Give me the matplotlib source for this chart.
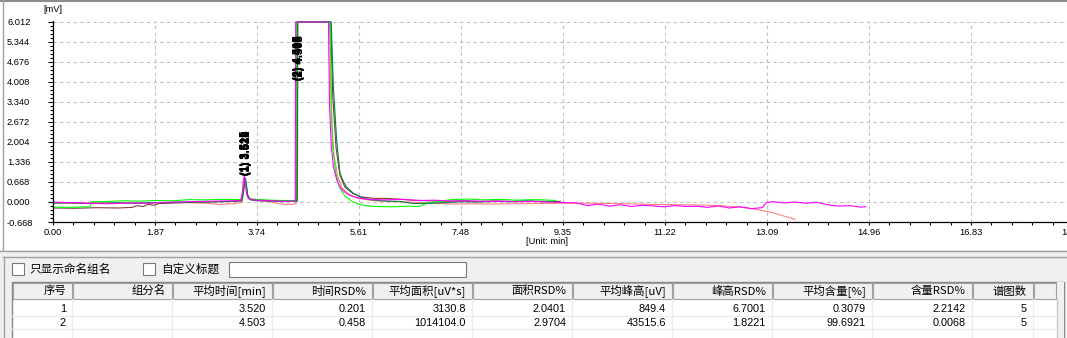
import matplotlib
matplotlib.use('Agg')
import matplotlib.pyplot as plt
from matplotlib.patches import Rectangle
from matplotlib.ticker import MultipleLocator, FormatStrFormatter

plt.rcParams['font.family'] = ['Liberation Sans', 'DejaVu Sans']
CJK = ['Noto Sans CJK SC', 'DejaVu Sans']

# ---- chromatogram traces (time [min], signal [mV])
mag_t = [0.00, 0.25, 0.50, 0.75, 1.00, 1.25, 1.50, 1.75, 2.00, 2.25, 2.50, 2.75, 3.00, 3.25, 3.44, 3.47, 3.49, 3.51,
         3.53, 3.55, 3.58, 3.62, 3.75, 3.95, 4.15, 4.35, 4.44, 4.45, 5.05, 5.07, 5.10, 5.14, 5.20, 5.28, 5.38, 5.50,
         5.65, 5.85, 6.10, 6.40, 6.70, 7.00, 7.30, 7.60, 7.90, 8.20, 8.50, 8.80, 9.10, 9.40, 9.60, 9.80, 10.00, 10.20,
         10.40, 10.60, 10.80, 11.00, 11.20, 11.40, 11.60, 11.80, 12.00, 12.20, 12.40, 12.60, 12.80, 13.00, 13.08,
         13.20, 13.40, 13.60, 13.80, 14.00, 14.20, 14.40, 14.60, 14.80, 14.90]
mag_v = [0.00, -0.02, -0.03, -0.05, -0.06, -0.04, -0.03, -0.04, -0.01, 0.00, 0.01, 0.02, 0.03, 0.04, 0.05, 0.30,
         0.70, 0.87, 0.55, 0.25, 0.12, 0.08, 0.06, 0.04, 0.03, 0.02, 0.04, 6.012, 6.012, 3.20, 1.90, 1.20, 0.75, 0.45,
         0.28, 0.18, 0.12, 0.08, 0.07, 0.09, 0.05, 0.06, 0.03, 0.04, 0.02, 0.03, 0.01, 0.02, 0.00, -0.02, -0.03,
         -0.12, -0.07, -0.14, -0.09, -0.15, -0.11, -0.13, -0.16, -0.12, -0.15, -0.14, -0.18, -0.13, -0.20, -0.16,
         -0.22, -0.19, -0.02, 0.01, -0.03, 0.00, -0.04, -0.01, -0.09, -0.14, -0.12, -0.17, -0.16]

dg_t = [0.00, 0.30, 0.60, 0.90, 1.20, 1.50, 1.80, 2.10, 2.40, 2.70, 3.00, 3.30, 3.46, 3.49, 3.51, 3.53, 3.55, 3.57,
        3.60, 3.65, 3.80, 4.00, 4.20, 4.40, 4.48, 4.49, 5.10, 5.14, 5.20, 5.26, 5.32, 5.38, 5.50, 5.63, 5.75, 5.90,
        6.10, 6.36, 6.60, 6.90, 7.20, 7.50, 7.80, 8.10, 8.40, 8.70, 9.00, 9.22]
dg_v = [-0.04, -0.03, -0.05, -0.04, -0.03, -0.04, -0.02, -0.02, -0.01, 0.00, 0.01, 0.02, 0.04, 0.30, 0.65, 0.79,
        0.50, 0.22, 0.10, 0.06, 0.04, 0.03, 0.02, 0.03, 0.03, 6.012, 6.012, 3.84, 2.07, 0.97, 0.70, 0.50, 0.30, 0.17,
        0.10, 0.06, 0.03, 0.02, -0.05, -0.04, -0.02, 0.01, 0.00, 0.02, 0.01, 0.03, 0.02, 0.01]

lg_t = [0.00, 0.30, 0.60, 0.68, 0.70, 1.00, 1.30, 1.60, 1.90, 2.20, 2.50, 2.80, 3.10, 3.40, 3.46, 3.49, 3.52, 3.54,
        3.57, 3.62, 3.80, 4.00, 4.20, 4.45, 4.46, 5.08, 5.12, 5.18, 5.25, 5.35, 5.50, 5.65, 5.90, 6.20, 6.50, 6.70,
        6.85, 7.00, 7.30, 7.60, 7.90, 8.20, 8.50, 8.80, 9.00, 9.22]
lg_v = [-0.17, -0.18, -0.16, -0.17, 0.00, 0.02, 0.04, 0.03, 0.05, 0.04, 0.08, 0.07, 0.09, 0.08, 0.10, 0.40, 0.75,
        0.55, 0.20, 0.10, 0.08, 0.06, 0.05, 0.05, 6.012, 6.012, 2.00, 1.00, 0.50, 0.20, 0.00, -0.10, -0.15, -0.16,
        -0.14, -0.15, -0.05, 0.00, 0.08, 0.10, 0.07, 0.09, 0.06, 0.08, 0.07, 0.05]

br_t = [0.00, 0.40, 0.80, 1.20, 1.45, 1.55, 1.65, 1.75, 1.85, 1.95, 2.10, 2.40, 2.70, 3.00, 3.30, 3.46, 3.49, 3.52,
        3.54, 3.57, 3.62, 3.80, 4.00, 4.20, 4.40, 4.47, 4.48, 5.09, 5.13, 5.19, 5.26, 5.35, 5.50, 5.65, 5.90, 6.10,
        6.30, 6.60, 6.90, 7.20, 7.50, 7.80, 8.10, 8.40, 8.70, 9.00, 9.30]
br_v = [-0.20, -0.21, -0.19, -0.20, -0.18, -0.12, -0.15, -0.08, -0.11, -0.05, -0.04, -0.02, 0.00, 0.01, 0.02, 0.04,
        0.35, 0.80, 0.60, 0.22, 0.10, 0.06, 0.04, 0.03, 0.03, 0.04, 6.012, 6.012, 3.50, 1.80, 0.90, 0.50, 0.28, 0.17,
        0.12, 0.12, 0.10, 0.06, 0.04, 0.03, 0.04, 0.02, 0.03, 0.02, 0.03, 0.01, 0.02]

sl_t = [0.00, 0.40, 0.80, 1.20, 1.60, 2.00, 2.40, 2.80, 3.05, 3.30, 3.46, 3.49, 3.52, 3.54, 3.57, 3.62, 3.80, 4.00,
        4.20, 4.40, 4.46, 4.47, 5.07, 5.10, 5.15, 5.22, 5.30, 5.42, 5.58, 5.80, 6.10, 6.50, 6.90, 7.30, 7.70, 8.10,
        8.50, 8.90, 9.35, 9.80, 10.30, 10.95, 11.50, 11.86, 12.20, 12.54, 12.80, 13.02, 13.20, 13.38, 13.50, 13.60]
sl_v = [-0.03, -0.04, -0.02, -0.03, -0.05, -0.03, -0.02, -0.04, -0.08, -0.06, -0.02, 0.30, 0.75, 0.55, 0.20, 0.08,
        0.04, 0.00, -0.07, -0.08, -0.05, 6.012, 6.012, 3.00, 1.60, 0.85, 0.48, 0.26, 0.13, 0.06, 0.02, 0.00, -0.03,
        -0.07, -0.06, -0.07, -0.06, -0.05, -0.04, -0.04, -0.05, -0.08, -0.09, -0.10, -0.12, -0.16, -0.22, -0.29,
        -0.36, -0.46, -0.52, -0.58]

# retention times printed at the two peaks (one per run)
pk1_rt = [3.515, 3.520, 3.528, 3.512, 3.525]
pk2_rt = [4.490, 4.515, 4.497, 4.508, 4.505]

# ---- summary table
headers = ['序号', '组分名', '平均时间[min]', '时间RSD%', '平均面积[uV*s]', '面积RSD%',
           '平均峰高[uV]', '峰高RSD%', '平均含量[%]', '含量RSD%', '谱图数', '']
col_no = ['1', '2']
col_name = ['', '']
col_rt = ['3.520', '4.503']
col_rt_rsd = ['0.201', '0.458']
col_area = ['3130.8', '1014104.0']
col_area_rsd = ['2.0401', '2.9704']
col_height = ['849.4', '43515.6']
col_height_rsd = ['6.7001', '1.8221']
col_amount = ['0.3079', '99.6921']
col_amount_rsd = ['2.2142', '0.0068']
col_nspec = ['5', '5']
table_cols = [col_no, col_name, col_rt, col_rt_rsd, col_area, col_area_rsd,
              col_height, col_height_rsd, col_amount, col_amount_rsd, col_nspec]

W, H = 1067, 338
fig = plt.figure(figsize=(W / 100, H / 100), dpi=100)

# background layer in pixel coordinates (y downwards)
bg = fig.add_axes([0, 0, 1, 1], zorder=0)
bg.set_xlim(0, W)
bg.set_ylim(H, 0)
bg.axis('off')

bg.add_patch(Rectangle((0, 0), W, 250, facecolor='white', edgecolor='none'))
bg.plot([0, W], [0.8, 0.8], color='#8c8c8c', lw=1.5)
bg.plot([2.5, 2.5], [0, 250], color='#a0a0a0', lw=1)
bg.add_patch(Rectangle((0, 250), W, H - 250, facecolor='#f0f0f0', edgecolor='none'))
bg.plot([0, W], [250.5, 250.5], color='#a0a0a0', lw=1)
bg.plot([3, W], [256.5, 256.5], color='#a0a0a0', lw=1)
bg.plot([3.5, 3.5], [256.5, H], color='#a0a0a0', lw=1)

# check boxes + title box
bg.add_patch(Rectangle((12, 263), 12, 12, facecolor='white', edgecolor='#7a7a7a', lw=0.8))
bg.text(29, 269, '只显示命名组名', family=CJK, fontsize=8.4, va='center', ha='left', color='black')
bg.add_patch(Rectangle((143, 263), 12, 12, facecolor='white', edgecolor='#7a7a7a', lw=0.8))
bg.text(161, 269, '自定义标题', family=CJK, fontsize=8.4, va='center', ha='left', color='black')
bg.add_patch(Rectangle((229, 262), 237, 15, facecolor='white', edgecolor='#7a7a7a', lw=0.8))

# table
col_edges = [12, 72, 172, 272, 372, 472, 572, 672, 772, 872, 972, 1033, 1056]
bg.add_patch(Rectangle((12, 282), 1052, 60, facecolor='white', edgecolor='#828790', lw=1))
bg.add_patch(Rectangle((1057, 282), 7, 60, facecolor='#f0f0f0', edgecolor='none'))
bg.plot([1057, 1057], [299, H], color='#c8c8c8', lw=1)
for x in col_edges[1:-1]:
    bg.plot([x, x], [299, H], color='#ececec', lw=1)
for y in [315.5, 329]:
    bg.plot([12, 1057], [y, y], color='#ececec', lw=1)
for i, h in enumerate(headers):
    x0, x1 = col_edges[i], col_edges[i + 1]
    bg.add_patch(Rectangle((x0 + 0.5, 282.5), x1 - x0 - 1, 16.5, facecolor='#f0f0f0', edgecolor='#a0a0a0', lw=0.8))
    if h:
        bg.text(x1 - 6, 291, h, family=CJK, fontsize=8.2, ha='right', va='center', color='black')
row_y = [309, 322.5]
for i, col in enumerate(table_cols):
    for r, val in enumerate(col):
        if val:
            bg.text(col_edges[i + 1] - 6, row_y[r], val, fontsize=7.8, ha='right', va='center', color='black')

# ---- chromatogram axes
ax = fig.add_axes([53 / W, (H - 222) / H, (W - 53) / W, 201 / H], zorder=1)
ax.set_facecolor('none')
traces = [(sl_t, sl_v, '#ff8080'), (br_t, br_v, '#804040'), (lg_t, lg_v, '#00ff00'),
          (dg_t, dg_v, '#008040'), (mag_t, mag_v, '#ff00ff')]
for t, v, c in traces:
    ax.plot(t, v, color=c, lw=0.8)

ax.set_xlim(0, 18.59)
ax.set_ylim(-0.668, 6.045)
ax.xaxis.set_major_locator(MultipleLocator(1.87))
ax.xaxis.set_minor_locator(MultipleLocator(0.374))
ax.yaxis.set_major_locator(MultipleLocator(0.668))
ax.yaxis.set_minor_locator(MultipleLocator(0.1336))
ax.xaxis.set_major_formatter(FormatStrFormatter('%.2f'))
ax.yaxis.set_major_formatter(FormatStrFormatter('%.3f'))
ax.grid(True, which='major', color='#c0c0c0', linestyle=(0, (3, 3)), lw=0.8)
for s in ['top', 'right']:
    ax.spines[s].set_visible(False)
for s in ['left', 'bottom']:
    ax.spines[s].set_linewidth(0.9)
ax.tick_params(axis='x', which='both', direction='out', length=2.5, width=0.8, pad=2, labelsize=6.7)
ax.tick_params(axis='y', which='major', direction='out', length=3.6, width=0.8, pad=29.5, labelsize=6.7)
ax.tick_params(axis='y', which='minor', direction='out', length=2, width=0.8)
for lab in ax.get_yticklabels():
    lab.set_horizontalalignment('left')
ax.text(18.70, -0.03, '18.70', transform=ax.get_xaxis_transform(), ha='center', va='top', fontsize=6.7)

bg.text(53, 10, '[mV]', ha='center', va='center', fontsize=6.7)
bg.text(547, 242, '[Unit: min]', ha='center', va='center', fontsize=6.7)

# overlapping peak labels (one per run)
for k, rt in enumerate(pk1_rt):
    ax.annotate('(1) %.3f' % rt, (3.54, 0.90), xytext=(0.4 * (k - 2), 0), textcoords='offset points',
                rotation=90, ha='center', va='bottom', fontsize=8, fontweight='bold', color='black')
for k, rt in enumerate(pk2_rt):
    ax.annotate('(2) %.3f' % rt, (4.51, 4.07), xytext=(0.4 * (k - 2), 0), textcoords='offset points',
                rotation=90, ha='center', va='bottom', fontsize=8, fontweight='bold', color='black')

fig.savefig('out.png', dpi=100)
